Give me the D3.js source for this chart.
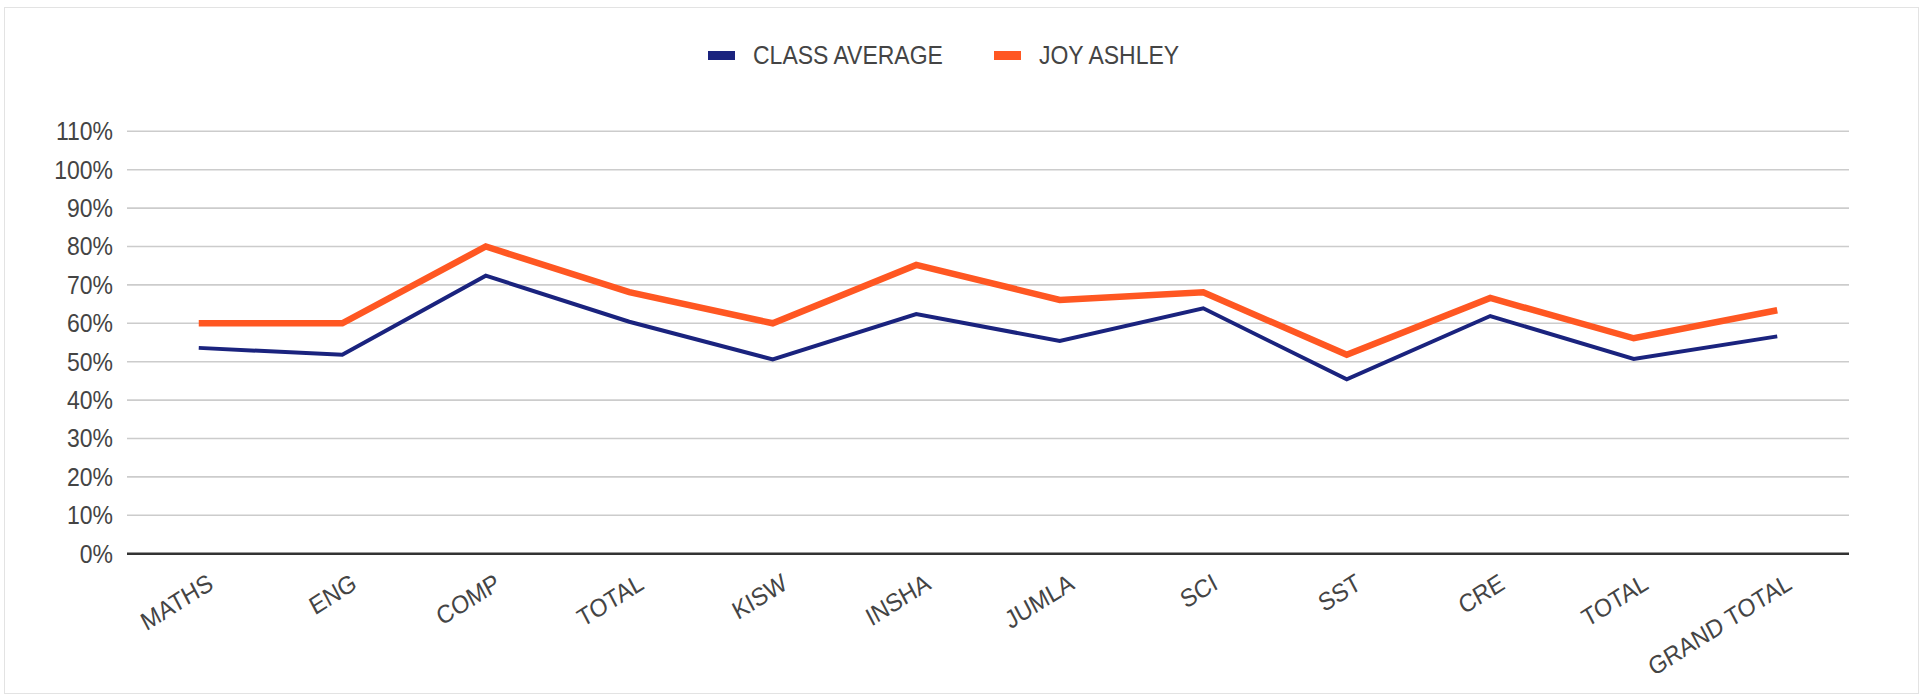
<!DOCTYPE html>
<html lang="en">
<head>
<meta charset="UTF-8">
<title>Class average vs Joy Ashley</title>
<style>
  body {
    margin: 0;
    background-color: #fff;
  }
  text {
    font-family: "Liberation Sans", Arial, sans-serif;
    fill: #444;
  }
  .grid line {
    stroke: #cccccc;
    stroke-width: 1.6;
  }
  .series {
    fill: none;
  }
</style>
</head>
<body>
<div class="vizHolder"></div>
<script src="https://cdnjs.cloudflare.com/ajax/libs/d3/7.8.5/d3.min.js"></script>
<script>
var subjects = ["MATHS", "ENG", "COMP", "TOTAL", "KISW", "INSHA", "JUMLA", "SCI", "SST", "CRE", "TOTAL", "GRAND TOTAL"];
var classAverage = [0.536, 0.518, 0.724, 0.604, 0.506, 0.624, 0.554, 0.639, 0.454, 0.619, 0.507, 0.566];
var joyAshley = [0.600, 0.600, 0.800, 0.681, 0.600, 0.752, 0.661, 0.681, 0.518, 0.666, 0.561, 0.634];
var yTicks = [0, 0.1, 0.2, 0.3, 0.4, 0.5, 0.6, 0.7, 0.8, 0.9, 1.0, 1.1];
var seriesNames = ["CLASS AVERAGE", "JOY ASHLEY"];

var W = 1921, H = 694;
var plotLeft = 127, plotRight = 1849, plotTop = 131.3, plotBottom = 553.7;
// the source text is a little taller than it is wide
var stretch = "scale(1,1.1)";

var series = [
  { name: seriesNames[0], values: classAverage, color: "#1a237e", width: 4 },
  { name: seriesNames[1], values: joyAshley, color: "#ff5722", width: 6.5 }
];

var svg = d3.select(".vizHolder").
append("svg").
attr("width", W).
attr("height", H);

// frame
svg.append("rect").
attr("x", 4.5).
attr("y", 7.5).
attr("width", 1914).
attr("height", 686).
attr("fill", "#fff").
attr("stroke", "#e3e3e3").
attr("stroke-width", 1);

var xScale = d3.scaleBand().
domain(d3.range(subjects.length)).
range([plotLeft, plotRight]);

var yScale = d3.scaleLinear().
domain([0, 1.1]).
range([plotBottom, plotTop]);

var xMid = function (i) {
  return xScale(i) + xScale.bandwidth() / 2;
};

// gridlines
var grid = svg.append("g").attr("class", "grid");
grid.selectAll("line").
data(yTicks.slice(1)).
enter().append("line").
attr("x1", plotLeft).
attr("x2", plotRight).
attr("y1", function (d) { return yScale(d); }).
attr("y2", function (d) { return yScale(d); });

// y-axis labels
var yAxis = d3.axisLeft(yScale).
tickValues(yTicks).
tickSize(0).
tickPadding(14).
tickFormat(d3.format(".0%"));

var yAxisGroup = svg.append("g").
attr("transform", "translate(" + plotLeft + ",0)").
call(yAxis);
yAxisGroup.select(".domain").remove();
yAxisGroup.selectAll("text").
attr("font-size", "23px").
attr("font-family", "Liberation Sans, Arial, sans-serif").
attr("fill", "#444").
attr("dy", "0.33em").
attr("transform", stretch);

// baseline
svg.append("line").
attr("x1", plotLeft).
attr("x2", plotRight).
attr("y1", yScale(0)).
attr("y2", yScale(0)).
attr("stroke", "#333").
attr("stroke-width", 2.5);

// x-axis labels
svg.append("g").
selectAll("text").
data(subjects).
enter().append("text").
attr("transform", function (d, i) {
  return "translate(" + (xMid(i) + 16) + ",588) " + stretch + " rotate(-30)";
}).
attr("text-anchor", "end").
attr("font-size", "23px").
text(function (d) { return d; });

// lines
var line = d3.line().
x(function (d, i) { return xMid(i); }).
y(function (d) { return yScale(d); });

svg.selectAll(".series").
data(series).
enter().append("path").
attr("class", "series").
attr("d", function (s) { return line(s.values); }).
attr("stroke", function (s) { return s.color; }).
attr("stroke-width", function (s) { return s.width; });

// legend
var legendX = [708, 994];
var legend = svg.selectAll(".legend").
data(series).
enter().append("g").
attr("class", "legend").
attr("transform", function (d, i) { return "translate(" + legendX[i] + ",0)"; });

legend.append("rect").
attr("x", 0).
attr("y", 51).
attr("width", 27).
attr("height", 9).
attr("fill", function (d) { return d.color; });

legend.append("text").
attr("transform", "translate(45,64) " + stretch).
attr("font-size", "23px").
text(function (d) { return d.name; });
</script>
</body>
</html>
